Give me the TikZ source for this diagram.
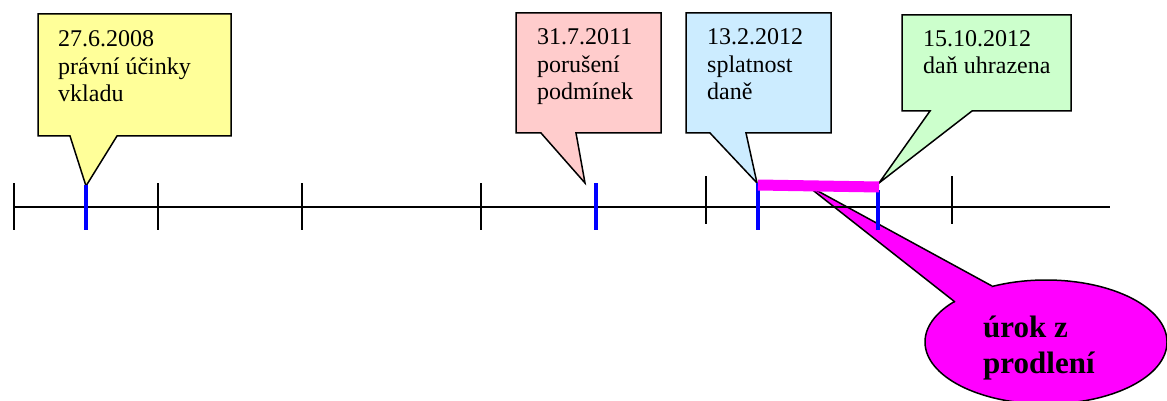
\documentclass[tikz,border=0pt]{standalone}
\usepackage{fontspec}
\setmainfont{Liberation Serif}
\usetikzlibrary{shapes.geometric}
\definecolor{cyellow}{HTML}{FFFF99}
\definecolor{cpink}{HTML}{FFCCCC}
\definecolor{cblue}{HTML}{CCECFF}
\definecolor{cgreen}{HTML}{CCFFCC}
\definecolor{cmag}{HTML}{FF00FF}
\definecolor{cbluetick}{HTML}{0000FF}
\begin{document}
\begin{tikzpicture}[x=1pt,y=-1pt,
  callout/.style={draw=black, line width=1.5pt, line join=miter},
  lbl/.style={anchor=base west, inner sep=0pt, align=left, font=\fontsize{24}{27.5}\selectfont},
  lblbold/.style={anchor=base west, inner sep=0pt, align=left, font=\fontsize{31}{36}\selectfont\bfseries},
  axistick/.style={draw=black, line width=1.5pt},
  datetick/.style={draw=cbluetick, line width=4pt},
  bubble/.style={draw=black, line width=1.5pt, fill=cmag, ellipse, inner sep=0pt}]
\useasboundingbox (0,0) rectangle (1167,401);
% rectangular callouts
\draw[callout, fill=cyellow] (38,14) -- (231,14) -- (231,136) -- (117,136) -- (86,186) -- (70,136) -- (38,136) -- cycle;
\draw[callout, fill=cpink] (516,13) -- (661,13) -- (661,133) -- (576,133) -- (585,183) -- (541,133) -- (516,133) -- cycle;
\draw[callout, fill=cblue] (686,13) -- (831,13) -- (831,133) -- (746,133) -- (757,183) -- (710,133) -- (686,133) -- cycle;
\draw[callout, fill=cgreen] (902,15) -- (1071,15) -- (1071,111) -- (972,111) -- (879,183) -- (930,111) -- (902,111) -- cycle;
% elliptic callout
\node[bubble, minimum width=242pt, minimum height=124pt] (ell) at (1046,342) {};
\fill[cmag] (955,302) -- (805,184) -- (992,286) -- (985,312) -- cycle;
\draw[line width=1.5pt, line join=miter] (955,302) -- (805,184) -- (992,286);
% axis
\coordinate (a0) at (14,207);
\coordinate (a1) at (1110,207);
\draw[line width=1.8pt] (a0) -- (a1);
\foreach \x in {14,158,302,481} { \draw[axistick] (\x,183) -- (\x,230); }
\foreach \x in {706,952} { \draw[axistick] (\x,176) -- (\x,224); }
\draw[datetick] (86,185) -- (86,230);
\draw[datetick] (596,183) -- (596,230);
\draw[datetick] (758,183) -- (758,230);
\draw[datetick] (878,190) -- (878,230);
% interest bar
\draw[draw=cmag, line width=11pt] (758,185) -- (879,187);
% texts (anchored at the baseline of the last line)
\node[lbl] (t1) at (58,102) {27.6.2008\\právní účinky\\vkladu};
\node[lbl] (t2) at (537,100) {31.7.2011\\porušení\\podmínek};
\node[lbl] (t3) at (707,100) {13.2.2012\\splatnost\\daně};
\node[lbl] (t4) at (923,74) {15.10.2012\\daň uhrazena};
\node[lblbold] (t5) at (983,373) {úrok z\\prodlení};
\end{tikzpicture}
\end{document}
